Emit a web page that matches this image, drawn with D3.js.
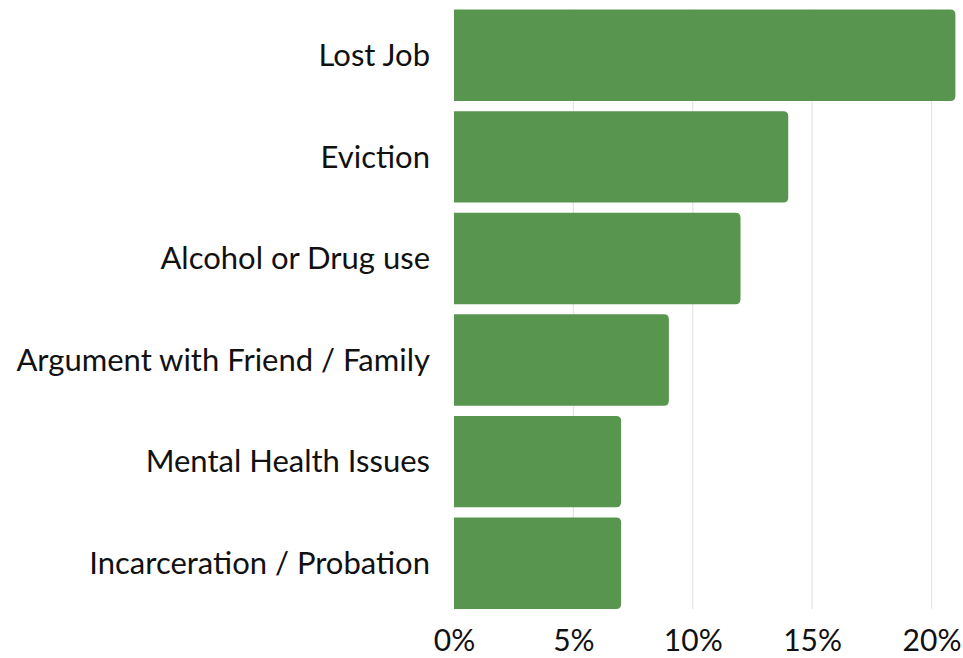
<!DOCTYPE html>
<html lang="en">
<head>
<meta charset="utf-8">
<title>Reasons</title>
<script src="https://cdn.jsdelivr.net/npm/d3@7"></script>
<style>
  body { margin: 0; background: #fff; }
  text { font-family: Lato, "Open Sans", sans-serif; fill: #111; }
</style>
</head>
<body>
<script>
var categories = ["Lost Job", "Eviction", "Alcohol or Drug use", "Argument with Friend / Family", "Mental Health Issues", "Incarceration / Probation"];
var values = [21, 14, 12, 9, 7, 7];
var tickValues = [0, 5, 10, 15, 20];

var W = 963, H = 658;
var svg = d3.select("body").append("svg").attr("width", W).attr("height", H);

var x = d3.scaleLinear().domain([0, 20]).range([454, 931.5]);
var y = d3.scaleBand().domain(categories).range([4.5, 614]).paddingInner(0.1).paddingOuter(0.05);

// gridlines
svg.append("g").selectAll("line")
  .data(tickValues.slice(1))
  .enter().append("line")
  .attr("x1", function(d) { return x(d); }).attr("x2", function(d) { return x(d); })
  .attr("y1", y(categories[0])).attr("y2", y(categories[5]) + y.bandwidth())
  .attr("stroke", "#e4e4e4").attr("stroke-width", 1.2);

// bars, rounded on the right only
var r = 5;
function barPath(i) {
  var x0 = x(0), x1 = x(values[i]), y0 = y(categories[i]), h = y.bandwidth();
  return "M" + x0 + "," + y0 + "H" + (x1 - r) + "Q" + x1 + "," + y0 + " " + x1 + "," + (y0 + r) +
    "V" + (y0 + h - r) + "Q" + x1 + "," + (y0 + h) + " " + (x1 - r) + "," + (y0 + h) + "H" + x0 + "Z";
}
svg.append("g").selectAll("path")
  .data(categories)
  .enter().append("path")
  .attr("d", function(d, i) { return barPath(i); })
  .attr("fill", "#58954f");

// category labels
svg.append("g").selectAll("text")
  .data(categories)
  .enter().append("text")
  .attr("x", 430)
  .attr("y", function(d) { return y(d) + y.bandwidth() / 2; })
  .attr("dy", "0.35em")
  .attr("text-anchor", "end")
  .attr("font-size", 31)
  .text(function(d) { return d; });

// x axis
var xAxis = svg.append("g")
  .attr("transform", "translate(0,651)")
  .call(d3.axisBottom(x).tickValues(tickValues).tickFormat(function(d) { return d + "%"; }).tickSize(0).tickPadding(0));
xAxis.select(".domain").remove();
xAxis.selectAll("text").attr("font-size", 30).attr("font-family", "Lato, sans-serif").attr("fill", "#111").attr("dy", 0);
</script>
</body>
</html>
